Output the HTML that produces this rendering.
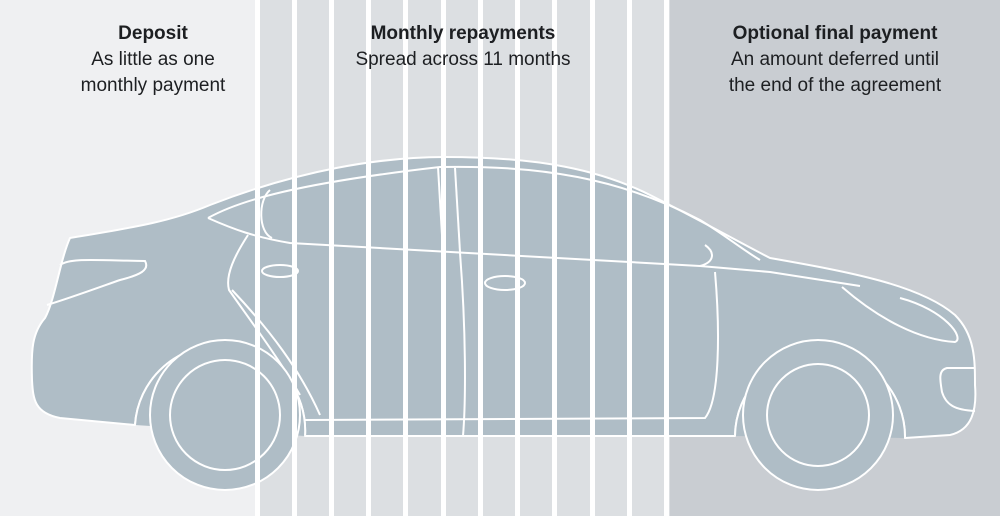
<!DOCTYPE html>
<html><head><meta charset="utf-8"><style>
html,body{margin:0;padding:0;}
body{width:1000px;height:516px;overflow:hidden;position:relative;background:#eff0f2;font-family:"Liberation Sans",sans-serif;}
svg{position:absolute;left:0;top:0}
.t{position:absolute;text-align:center;font-size:19px;line-height:26px;color:#1d1f22;}
.t b{font-weight:bold}
</style></head><body>
<svg width="1000" height="516" viewBox="0 0 1000 516">
<rect x="0" y="0" width="1000" height="516" fill="#eff0f2"/>
<rect x="258" y="0" width="412" height="516" fill="#dcdfe2"/>
<rect x="670" y="0" width="330" height="516" fill="#c9cdd2"/>
<g fill="#afbdc6" stroke="#fff" stroke-width="2" stroke-linejoin="round">
<path d="M70,238 C130,228 170,222 210,205 C300,170 380,157 445,157 C540,157 600,170 650,195 C700,220 735,240 770,258 C850,272 920,285 955,315 C975,335 975,360 975,385 C977,410 972,430 950,435 L905,438 A85,85 0 0 0 735,436 L305,436 A85,85 0 0 0 135,425 L60,418 C35,413 33,400 32,380 C31,350 32,333 45,318 C55,300 60,260 70,238 Z"/>
</g>
<path d="M135,425 A85,85 0 0 1 305,436 Z" fill="#afbdc6"/>
<path d="M735,436 A85,85 0 0 1 905,438 Z" fill="#afbdc6"/>
<g fill="none" stroke="#fff" stroke-width="2">
<path d="M135,425 A85,85 0 0 1 305,436"/>
<path d="M735,436 A85,85 0 0 1 905,438"/>
<path d="M208,218 C240,200 300,183 440,167 C540,165 620,178 700,220 C725,235 740,248 760,260"/>
<path d="M208,218 C235,230 255,237 290,243 L700,266 L770,272 L860,286"/>
<path d="M270,190 C258,200 258,232 272,238"/>
<path d="M705,245 C715,252 715,262 700,266"/>
<path d="M438,167 L443,252"/>
<path d="M455,168 L460,252"/>
<path d="M460,253 C466,330 466,400 463,436"/>
<path d="M715,272 C720,330 720,400 705,418 L305,420"/>
<path d="M248,235 C235,255 225,275 229,290 C250,320 280,360 300,395"/>
<path d="M232,290 C270,330 300,370 320,415"/>
<path d="M60,265 C70,258 90,260 145,261 C150,270 140,275 120,280 C100,287 70,298 47,305"/>
<path d="M842,287 C880,320 920,340 955,342 C965,338 945,310 900,298"/>
<path d="M975,368 L947,368 C938,370 940,380 942,392 C946,405 955,410 975,411"/>
<ellipse cx="280" cy="271" rx="18" ry="6"/>
<ellipse cx="505" cy="283" rx="20" ry="7"/>
<circle cx="225" cy="415" r="75" fill="#afbdc6"/>
<circle cx="225" cy="415" r="55"/>
<circle cx="818" cy="415" r="75" fill="#afbdc6"/>
<circle cx="818" cy="415" r="51"/>
</g>
<g fill="#fff">
<rect x="255" y="0" width="5" height="516"/>
<rect x="292" y="0" width="5" height="516"/>
<rect x="329" y="0" width="5" height="516"/>
<rect x="366" y="0" width="5" height="516"/>
<rect x="403" y="0" width="5" height="516"/>
<rect x="441" y="0" width="5" height="516"/>
<rect x="478" y="0" width="5" height="516"/>
<rect x="515" y="0" width="5" height="516"/>
<rect x="552" y="0" width="5" height="516"/>
<rect x="590" y="0" width="5" height="516"/>
<rect x="627" y="0" width="5" height="516"/>
<rect x="664" y="0" width="5" height="516"/>
</g>
</svg>
<div class="t" style="left:20px;width:266px;top:21px"><b>Deposit</b><br>As little as one<br>monthly payment</div>
<div class="t" style="left:313px;width:300px;top:21px"><b>Monthly repayments</b><br>Spread across 11 months</div>
<div class="t" style="left:685px;width:300px;top:21px"><b>Optional final payment</b><br>An amount deferred until<br>the end of the agreement</div>
</body></html>
